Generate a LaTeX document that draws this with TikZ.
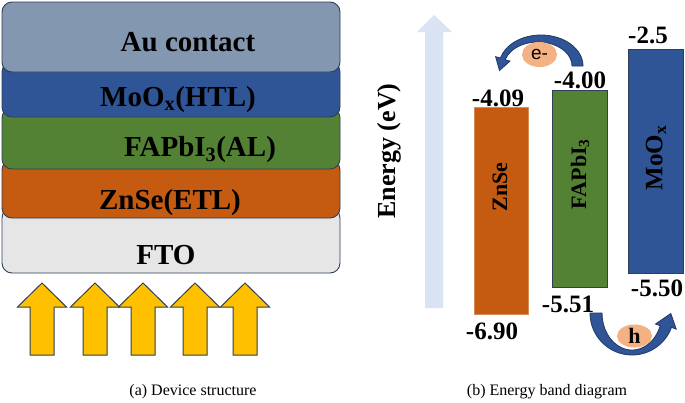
\documentclass[tikz,border=0pt]{standalone}
\usepackage{fontspec}
\setmainfont{Liberation Serif}
\newfontfamily\sansf{Liberation Sans}
\usetikzlibrary{shapes.geometric}
\definecolor{auC}{HTML}{8497B0}
\definecolor{mooC}{HTML}{2F5597}
\definecolor{faC}{HTML}{548235}
\definecolor{znC}{HTML}{C55A11}
\definecolor{ftoC}{HTML}{E7E6E6}
\definecolor{edgeC}{HTML}{2E3F57}
\definecolor{yelC}{HTML}{FFC000}
\definecolor{lightC}{HTML}{DAE3F3}
\definecolor{ellC}{HTML}{F4B183}
\definecolor{arrC}{HTML}{2F5597}
\definecolor{arrD}{HTML}{1F3864}
\tikzset{
  layer/.style={draw=edgeC, line width=0.9pt, rounded corners=10pt, minimum width=338pt, inner sep=0pt},
  laytext/.style={font=\fontsize{29}{31}\selectfont\bfseries, inner sep=0pt},
  bar/.style={draw=edgeC, line width=0.8pt, inner sep=0pt, minimum width=55pt},
  barlab/.style={font=\fontsize{22}{24}\selectfont\bfseries, rotate=90, inner sep=0pt},
  vallab/.style={font=\fontsize{25}{27}\selectfont\bfseries, inner sep=0pt},
  captext/.style={font=\fontsize{16}{18}\selectfont, inner sep=0pt},
  carrier/.style={ellipse, fill=ellC, inner sep=0pt},
  curvarrow/.style={fill=arrC, draw=arrD, line width=0.8pt, line join=miter},
  uparrow/.pic={\draw[fill=yelC, draw=edgeC, line width=1pt]
    (-12,0) -- (-12,-48) -- (-24.5,-48) -- (0,-72) -- (24.5,-48) -- (12,-48) -- (12,0) -- cycle;}
}
\begin{document}
\begin{tikzpicture}[x=1pt, y=-1pt]
\useasboundingbox[fill=white] (0,0) rectangle (685,402);
% ---------- (a) device stack ----------
\node[layer, fill=ftoC, minimum height=65pt] (fto) at (171,240.5) {};
\node[layer, fill=znC, minimum height=58pt] (zn) at (171,189) {};
\node[layer, fill=faC, minimum height=61pt] (fa) at (171,138.5) {};
\node[layer, fill=mooC, minimum height=55pt] (moo) at (171,89.5) {};
\node[layer, fill=auC, minimum height=70pt] (au) at (171,37) {};
\node[laytext] (tau) at (188,42) {Au contact};
\node[laytext] (tmoo) at (178,100) {MoO\textsubscript{x}(HTL)};
\node[laytext] (tfa) at (200,150) {FAPbI\textsubscript{3}(AL)};
\node[laytext] (tzn) at (170,203) {ZnSe(ETL)};
\node[laytext] (tfto) at (166,255) {FTO};
\foreach \xx in {42,95,143,195,245} \pic at (\xx,355) {uparrow};
\node[captext] (capa) at (193,392) {(a) Device structure};
% ---------- (b) energy band diagram ----------
\fill[lightC] (425,308) -- (425,32) -- (417,32) -- (434,15) -- (452,32) -- (443,32) -- (443,308) -- cycle;
\node[font=\fontsize{26}{28}\selectfont\bfseries, rotate=90, inner sep=0pt] (en) at (389,151) {Energy (eV)};
\node[bar, fill=znC, draw=znC!70!white, minimum width=54pt, minimum height=207pt] (bzn) at (501,210.5) {};
\node[bar, fill=faC, minimum height=197pt] (bfa) at (579.5,188.5) {};
\node[bar, fill=mooC, minimum height=224pt] (bmoo) at (655.5,161) {};
\node[barlab] (lzn) at (500,187) {ZnSe};
\node[barlab] (lfa) at (580,174) {FAPbI\textsubscript{3}};
\node[barlab, font=\fontsize{25}{27}\selectfont\bfseries] (lmoo) at (656,158) {MoO\textsubscript{x}};
\node[vallab] (v1) at (498,98) {-4.09};
\node[vallab] (v2) at (580,80) {-4.00};
\node[vallab] (v3) at (648,35) {-2.5};
\node[vallab] (v4) at (568,304) {-5.51};
\node[vallab] (v5) at (492,331) {-6.90};
\node[vallab] (v6) at (657,288) {-5.50};
% electron arrow
\draw[curvarrow] (583,66) arc[start angle=0, end angle=-165, x radius=42, y radius=31]
  -- (495.6,56.7) -- (499.5,70.5) -- (510,61.1) -- (505.2,59.8)
  arc[start angle=-165, end angle=0, x radius=34, y radius=24] -- cycle;
\node[carrier, minimum width=35pt, minimum height=25pt] (el) at (539.5,54.5) {\sansf\fontsize{19}{21}\selectfont e-};
% hole arrow
\draw[curvarrow] (590,313) arc[start angle=180, end angle=20, x radius=42, y radius=42]
  -- (676.2,329.1) -- (670.8,313.5) -- (655.5,324) -- (660.2,325.7)
  arc[start angle=20, end angle=180, x radius=30, y radius=37] -- cycle;
\node[carrier, minimum width=35pt, minimum height=23pt] (ho) at (634.5,336) {\fontsize{22}{24}\selectfont\bfseries h};
\node[captext] (capb) at (547,392) {(b) Energy band diagram};
\end{tikzpicture}
\end{document}
